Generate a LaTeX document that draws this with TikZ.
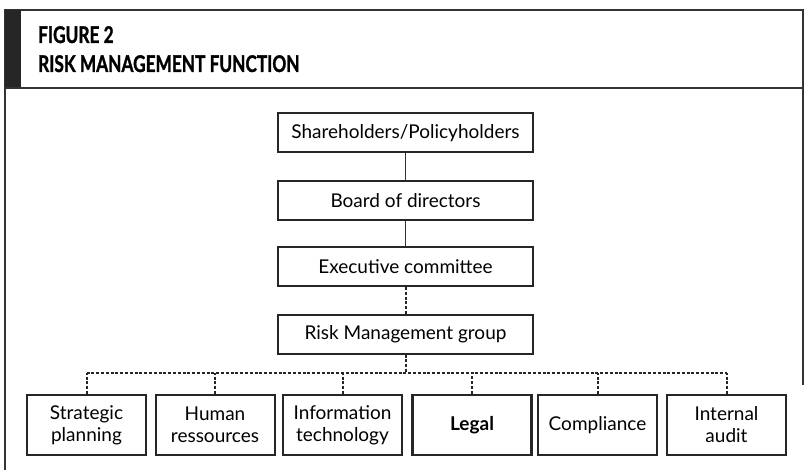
\documentclass[tikz,border=0pt]{standalone}
\usepackage{fontspec}
\setmainfont{Lato}
\newfontfamily\titlefont{Lato}[FakeStretch=0.75, FakeBold=1.2]
\usetikzlibrary{positioning}
\begin{document}
\begin{tikzpicture}[x=1pt,y=-1pt,
  box/.style={draw=black!85, line width=2pt, fill=white, inner sep=0pt, font=\fontsize{19}{22}\selectfont, align=center},
  topbox/.style={box, minimum width=255pt, minimum height=39pt},
  botbox/.style={box, minimum width=119pt, minimum height=60pt},
  solidlink/.style={draw=black!80, line width=1.8pt},
  dotlink/.style={draw=black!85, line width=2pt, dash pattern=on 3pt off 1.8pt},
  titletext/.style={anchor=base west, inner sep=0pt, font=\titlefont\bfseries\fontsize{23}{26}\selectfont}
]
\useasboundingbox (0,0) rectangle (805,470);
\fill[white] (0,0) rectangle (805,470);
% frame
\draw[black!80, line width=1.8pt] (5,470) -- (5,10) -- (803,10) -- (803,385);
\draw[black!80, line width=1.8pt] (5,88) -- (803,88);
\fill[black!85] (5,10) rectangle (21,87);
\node[titletext] (t1) at (38,43) {FIGURE 2};
\node[titletext] (t2) at (38,72) {RISK MANAGEMENT FUNCTION};
% top boxes
\node[topbox] (sh) at (405.5,133) {Shareholders/Policyholders};
\node[topbox] (bd) at (405.5,201) {Board of directors};
\node[topbox] (ex) at (405.5,266.5) {Executive committee};
\node[topbox] (rm) at (405.5,334) {Risk Management group};
% bottom boxes
\node[botbox] (sp) at (86.5,425) {Strategic\\planning};
\node[botbox] (hr) at (215,425) {Human\\ressources};
\node[botbox] (it) at (342.5,425) {Information\\technology};
\node[botbox, line width=2.8pt, font=\fontsize{19}{22}\bfseries\selectfont] (lg) at (472,425) {Legal};
\node[botbox] (cp) at (597.5,425) {Compliance};
\node[botbox] (ia) at (726.5,425) {Internal\\audit};
% connectors
\draw[solidlink] (sh.south) -- (bd.north);
\draw[solidlink] (bd.south) -- (ex.north);
\draw[dotlink] (ex.south) -- (rm.north);
\coordinate (bus) at (405.5,373);
\draw[dotlink] (rm.south) -- (bus);
\foreach \n in {sp,hr,it,lg,cp,ia}{
  \draw[dotlink] (\n.north) -- (\n.north |- bus);
}
\draw[dotlink] (sp.north |- bus) -- (ia.north |- bus);
\end{tikzpicture}
\end{document}
